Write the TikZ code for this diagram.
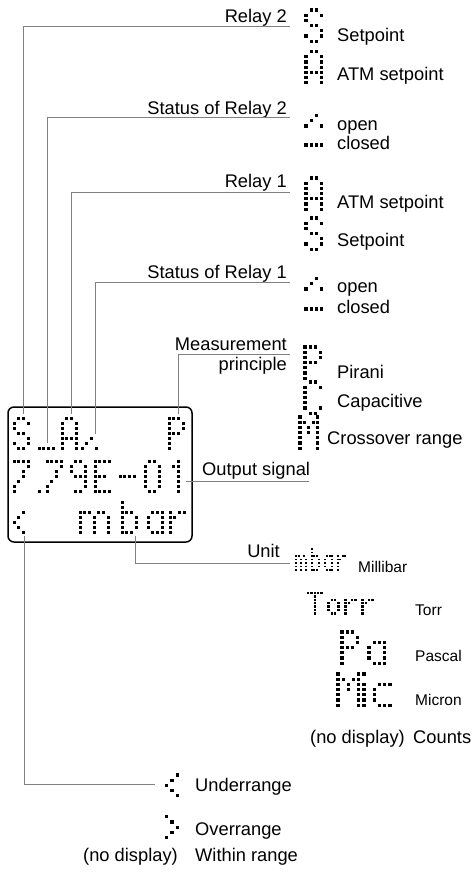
\documentclass[tikz,border=0pt]{standalone}
\usepackage{fontspec}
\setmainfont{Liberation Sans}
% dot-matrix glyph patterns: col/row, rows counted from the top
\def\dmS{1/0,2/0,0/1,3/1,0/2,1/3,2/3,3/4,0/5,3/5,1/6,2/6}
\def\dmA{1/0,2/0,0/1,3/1,0/2,3/2,0/3,3/3,0/4,1/4,2/4,3/4,0/5,3/5,0/6,3/6}
\def\dmOpen{0/6,1/5,2/4,3/6}
\def\dmClosed{0/6,1/6,2/6,3/6}
\def\dmP{0/0,1/0,2/0,0/1,3/1,0/2,3/2,0/3,1/3,2/3,0/4,0/5,0/6}
\def\dmC{1/0,2/0,0/1,3/1,0/2,0/3,0/4,0/5,3/5,1/6,2/6}
\def\dmM{0/0,4/0,0/1,1/1,3/1,4/1,0/2,2/2,4/2,0/3,2/3,4/3,0/4,4/4,0/5,4/5,0/6,4/6}
\def\dmSeven{0/0,1/0,2/0,3/0,3/1,2/2,2/3,1/4,0/5,0/6}
\def\dmNine{1/0,2/0,0/1,3/1,0/2,3/2,1/3,2/3,3/3,3/4,3/5,1/6,2/6}
\def\dmE{0/0,1/0,2/0,3/0,0/1,0/2,0/3,1/3,2/3,0/4,0/5,0/6,1/6,2/6,3/6}
\def\dmMinus{0/3,1/3,2/3,3/3}
\def\dmZero{1/0,2/0,0/1,3/1,0/2,3/2,0/3,3/3,0/4,3/4,0/5,3/5,1/6,2/6}
\def\dmOne{2/0,1/1,2/1,2/2,2/3,2/4,2/5,2/6}
\def\dmDot{0/6}
\def\dmLt{2/2,1/3,0/4,1/5,2/6}
\def\dmGt{0/2,1/3,2/4,1/5,0/6}
\def\dmm{0/2,1/2,2/2,4/2,5/2,0/3,3/3,6/3,0/4,3/4,6/4,0/5,3/5,6/5,0/6,3/6,6/6}
\def\dmmn{0/2,1/2,3/2,0/3,2/3,4/3,0/4,2/4,4/4,0/5,2/5,4/5,0/6,2/6,4/6}
\def\dmb{0/0,0/1,0/2,1/2,2/2,0/3,3/3,0/4,3/4,0/5,3/5,0/6,1/6,2/6}
\def\dma{1/2,2/2,3/2,0/3,3/3,0/4,3/4,0/5,3/5,1/6,2/6,3/6}
\def\dmr{0/2,2/2,3/2,0/3,1/3,0/4,0/5,0/6}
\def\dmT{0/0,1/0,2/0,3/0,4/0,2/1,2/2,2/3,2/4,2/5,2/6}
\def\dmo{1/2,2/2,0/3,3/3,0/4,3/4,0/5,3/5,1/6,2/6}
\def\dmi{0/0,0/2,0/3,0/4,0/5,0/6}
\def\dmc{1/2,2/2,3/2,0/3,0/4,0/5,1/6,2/6,3/6}
% #1 pattern, #2 x0, #3 y0, #4 x pitch, #5 y pitch, #6 dot size
\newcommand\dmg[6]{\foreach \c/\r in #1 {\fill ({#2+\c*#4-#6/2},{#3+\r*#5-#6/2}) rectangle ++(#6,#6);}}
\newcommand\lcdg[3]{\dmg{#1}{#2}{#3}{4.67}{5}{3.0}}
\newcommand\colg[3]{\dmg{#1}{#2}{#3}{5.2}{5.2}{3.2}}
\tikzset{
  lead/.style={draw={rgb,255:red,128;green,128;blue,128}, line width=1pt},
  lbl/.style={inner sep=0pt, anchor=base east, font=\fontsize{18.3}{22}\selectfont},
  desc/.style={inner sep=0pt, anchor=base west, font=\fontsize{18.3}{22}\selectfont},
  sdesc/.style={inner sep=0pt, anchor=base west, font=\fontsize{15.5}{18}\selectfont},
  lcdbox/.style={draw=black, line width=1.5pt, rounded corners=6pt, minimum width=184pt, minimum height=135pt, inner sep=0pt}
}
\begin{document}
\begin{tikzpicture}[x=1pt,y=-1pt]
\useasboundingbox (0,0) rectangle (475,872);
% display
\node[lcdbox] (lcd) at (100,474.5) {};
% row 1
\lcdg\dmS{14.3}{418}
\lcdg\dmClosed{39}{418}
\lcdg\dmA{62}{418}
\lcdg\dmOpen{82}{418}
\lcdg\dmP{169}{418}
% row 2
\lcdg\dmSeven{14.3}{461}
\lcdg\dmDot{39}{461}
\lcdg\dmSeven{47}{461}
\lcdg\dmNine{71}{461}
\lcdg\dmE{95}{461}
\lcdg\dmMinus{120}{461}
\lcdg\dmZero{145}{461}
\lcdg\dmOne{169}{461}
% row 3
\lcdg\dmLt{14.3}{502}
\lcdg\dmm{80}{502}
\lcdg\dmb{122}{502}
\lcdg\dma{148}{502}
\lcdg\dmr{170}{502}
% right column glyphs
\colg\dmS{306}{10}
\colg\dmA{306}{51.7}
\colg\dmOpen{306}{94.8}
\colg\dmClosed{306}{113.8}
\colg\dmA{306}{178}
\colg\dmS{306}{218}
\colg\dmOpen{306}{257.8}
\colg\dmClosed{306}{277.8}
\colg\dmP{305}{347}
\colg\dmC{305}{382}
\dmg\dmM{300}{417}{4.4}{5.2}{3.2}
% units
\dmg\dmmn{296}{549}{2.6}{3.5}{1.9}
\dmg\dmb{311.6}{549}{2.6}{3.5}{1.9}
\dmg\dma{324.6}{549}{2.6}{3.5}{1.9}
\dmg\dmr{337.6}{549}{2.6}{3.5}{1.9}
\dmg\dmT{308}{593}{3.4}{3.4}{2.5}
\dmg\dmo{328.4}{593}{3.4}{3.4}{2.5}
\dmg\dmr{345.4}{593}{3.4}{3.4}{2.5}
\dmg\dmr{362.4}{593}{3.4}{3.4}{2.5}
\colg\dmP{342}{632}
\colg\dma{369}{632}
\colg\dmM{338}{674}
\colg\dmi{364}{674}
\colg\dmc{374.4}{674}
\colg\dmLt{166.7}{764.6}
\colg\dmGt{166.7}{806.3}
% labels
\node[lbl] (tr2) at (287,22.5) {Relay 2};
\node[desc] (tsp2) at (337,42) {Setpoint};
\node[desc] (tatm2) at (337,81) {ATM setpoint};
\node[lbl] (tst2) at (287,114) {Status of Relay 2};
\node[desc] (top2) at (337,131) {open};
\node[desc] (tcl2) at (337,149) {closed};
\node[lbl] (tr1) at (287,187) {Relay 1};
\node[desc] (tatm1) at (337,208) {ATM setpoint};
\node[desc] (tsp1) at (337,246.5) {Setpoint};
\node[lbl] (tst1) at (287,278) {Status of Relay 1};
\node[desc] (top1) at (337,292) {open};
\node[desc] (tcl1) at (337,313) {closed};
\node[lbl] (tmeas) at (287,350) {Measurement};
\node[lbl] (tprin) at (287,370) {principle};
\node[desc] (tpir) at (337,378) {Pirani};
\node[desc] (tcap) at (337,407) {Capacitive};
\node[desc] (tcross) at (327,444) {Crossover range};
\node[desc] (tout) at (202,475) {Output signal};
\node[lbl] (tunit) at (280,557) {Unit};
\node[sdesc] (tmbar) at (358,572) {Millibar};
\node[sdesc] (ttorr) at (415,615) {Torr};
\node[sdesc] (tpa) at (415,661) {Pascal};
\node[sdesc] (tmic) at (415,705) {Micron};
\node[lbl] (tnd1) at (405,743) {(no display)};
\node[desc] (tcnt) at (413,743) {Counts};
\node[desc] (tund) at (195,791) {Underrange};
\node[desc] (tovr) at (195,835) {Overrange};
\node[lbl] (tnd2) at (178,861) {(no display)};
\node[desc] (twr) at (195,861) {Within range};
% leader end points
\coordinate (aS2) at (23,414);   \coordinate (eR2) at (290,27);
\coordinate (aSt2) at (47,443);  \coordinate (eSt2) at (290,118);
\coordinate (aR1) at (71,414);   \coordinate (eR1) at (290,192);
\coordinate (aSt1) at (95,434);  \coordinate (eSt1) at (290,282);
\coordinate (aMeas) at (178,414);\coordinate (eMeas) at (290,354);
\coordinate (aOut) at (186,481); \coordinate (eOut) at (309,481);
\coordinate (aUnit) at (135,536);\coordinate (eUnit) at (290,563);
\coordinate (aRng) at (24,536);  \coordinate (eRng) at (155,784);
% leaders
\draw[lead] (aS2) |- (eR2);
\draw[lead] (aSt2) |- (eSt2);
\draw[lead] (aR1) |- (eR1);
\draw[lead] (aSt1) |- (eSt1);
\draw[lead] (aMeas) |- (eMeas);
\draw[lead] (aOut) -- (eOut);
\draw[lead] (aUnit) |- (eUnit);
\draw[lead] (aRng) |- (eRng);
\end{tikzpicture}
\end{document}
